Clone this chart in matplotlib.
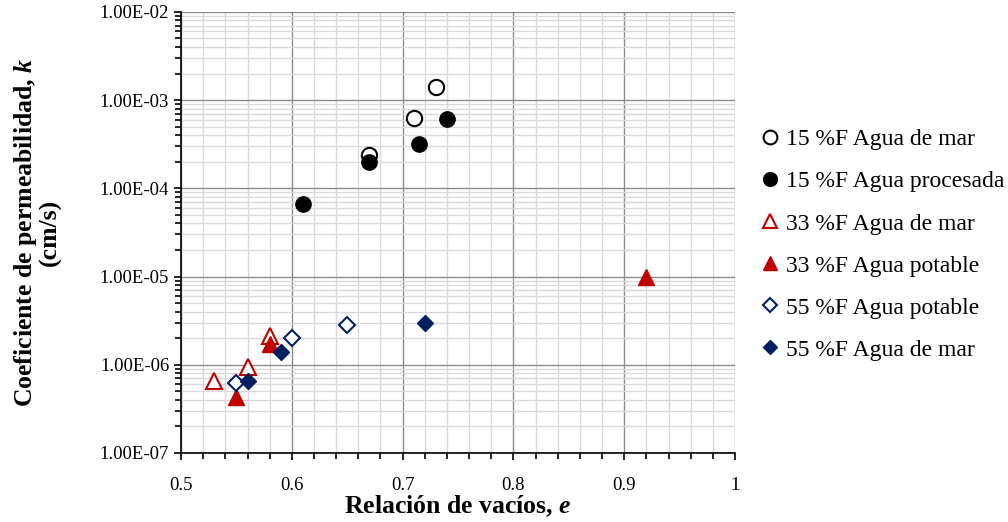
import matplotlib
matplotlib.use("Agg")
import matplotlib.pyplot as plt
from matplotlib.ticker import FuncFormatter, MultipleLocator, LogLocator, NullFormatter

plt.rcParams['font.family'] = ['Liberation Serif', 'DejaVu Serif']
plt.rcParams['mathtext.fontset'] = 'custom'
plt.rcParams['mathtext.bfit'] = 'Liberation Serif:bold:italic'
plt.rcParams['mathtext.it'] = 'Liberation Serif:italic'

# data
e_15_mar = [0.67, 0.71, 0.73]
k_15_mar = [2.4e-4, 6.3e-4, 1.4e-3]
e_15_proc = [0.61, 0.67, 0.715, 0.74]
k_15_proc = [6.7e-5, 2.0e-4, 3.2e-4, 6.1e-4]
e_33_mar = [0.53, 0.56, 0.58]
k_33_mar = [6.5e-7, 9.5e-7, 2.1e-6]
e_33_pot = [0.55, 0.58, 0.92]
k_33_pot = [4.3e-7, 1.7e-6, 1.0e-5]
e_55_pot = [0.55, 0.60, 0.65]
k_55_pot = [6.2e-7, 2.0e-6, 2.8e-6]
e_55_mar = [0.56, 0.59, 0.72]
k_55_mar = [6.5e-7, 1.4e-6, 3.0e-6]

red = '#C00000'
navy = '#002060'

fig = plt.figure(figsize=(10.08, 5.22), dpi=100)
ax = fig.add_axes([0.1796, 0.1322, 0.5496, 0.845])

ax.plot(e_15_mar, k_15_mar, 'o', ms=11, mfc='white', mec='black', mew=1.5, ls='none', label='15 %F Agua de mar')
ax.plot(e_15_proc, k_15_proc, 'o', ms=11, mfc='black', mec='black', ls='none', label='15 %F Agua procesada')
ax.plot(e_33_mar, k_33_mar, '^', ms=11, mfc='white', mec=red, mew=1.5, ls='none', label='33 %F Agua de mar')
ax.plot(e_33_pot, k_33_pot, '^', ms=11, mfc=red, mec=red, ls='none', label='33 %F Agua potable')
ax.plot(e_55_pot, k_55_pot, 'D', ms=8, mfc='white', mec=navy, mew=1.5, ls='none', label='55 %F Agua potable')
ax.plot(e_55_mar, k_55_mar, 'D', ms=8, mfc=navy, mec=navy, ls='none', label='55 %F Agua de mar')

ax.set_yscale('log')
ax.set_xlim(0.5, 1.0)
ax.set_ylim(1e-7, 1e-2)
ax.xaxis.set_major_locator(MultipleLocator(0.1))
ax.xaxis.set_minor_locator(MultipleLocator(0.02))
ax.xaxis.set_major_formatter(FuncFormatter(lambda v, p: ('%g' % round(v, 2))))
ax.yaxis.set_major_locator(LogLocator(base=10, numticks=10))
ax.yaxis.set_minor_locator(LogLocator(base=10, subs=range(2, 10), numticks=20))
ax.yaxis.set_minor_formatter(NullFormatter())
ax.yaxis.set_major_formatter(FuncFormatter(lambda v, p: '%.2E' % v))

ax.grid(which='major', color='#8c8c8c', lw=1.0)
ax.grid(which='minor', color='#d9d9d9', lw=1.0)
ax.set_axisbelow(True)
for s in ax.spines.values():
    s.set_visible(False)
for side in ('left', 'bottom'):
    ax.spines[side].set_visible(True)
    ax.spines[side].set_color('black')
    ax.spines[side].set_linewidth(1.2)

ax.tick_params(axis='both', which='major', labelsize=13.5, direction='out', length=5, width=1.2)
ax.tick_params(axis='both', which='minor', direction='out', length=4, width=1.2)
ax.tick_params(axis='x', which='major', pad=12)

ax.set_xlabel('Relación de vacíos, $\\mathbfit{e}$', fontsize=18.5, fontweight='bold', labelpad=0)
ax.set_ylabel('Coeficiente de permeabilidad, $\\mathbfit{k}$\n(cm/s)', fontsize=18.5, fontweight='bold',
              labelpad=27, linespacing=1.0)

fig.legend(loc='center left', bbox_to_anchor=(0.747, 0.531), frameon=False, fontsize=17,
           handlelength=0.6, handletextpad=0.4, labelspacing=0.87, borderaxespad=0, markerscale=0.9)

fig.savefig('out.png', dpi=100)
